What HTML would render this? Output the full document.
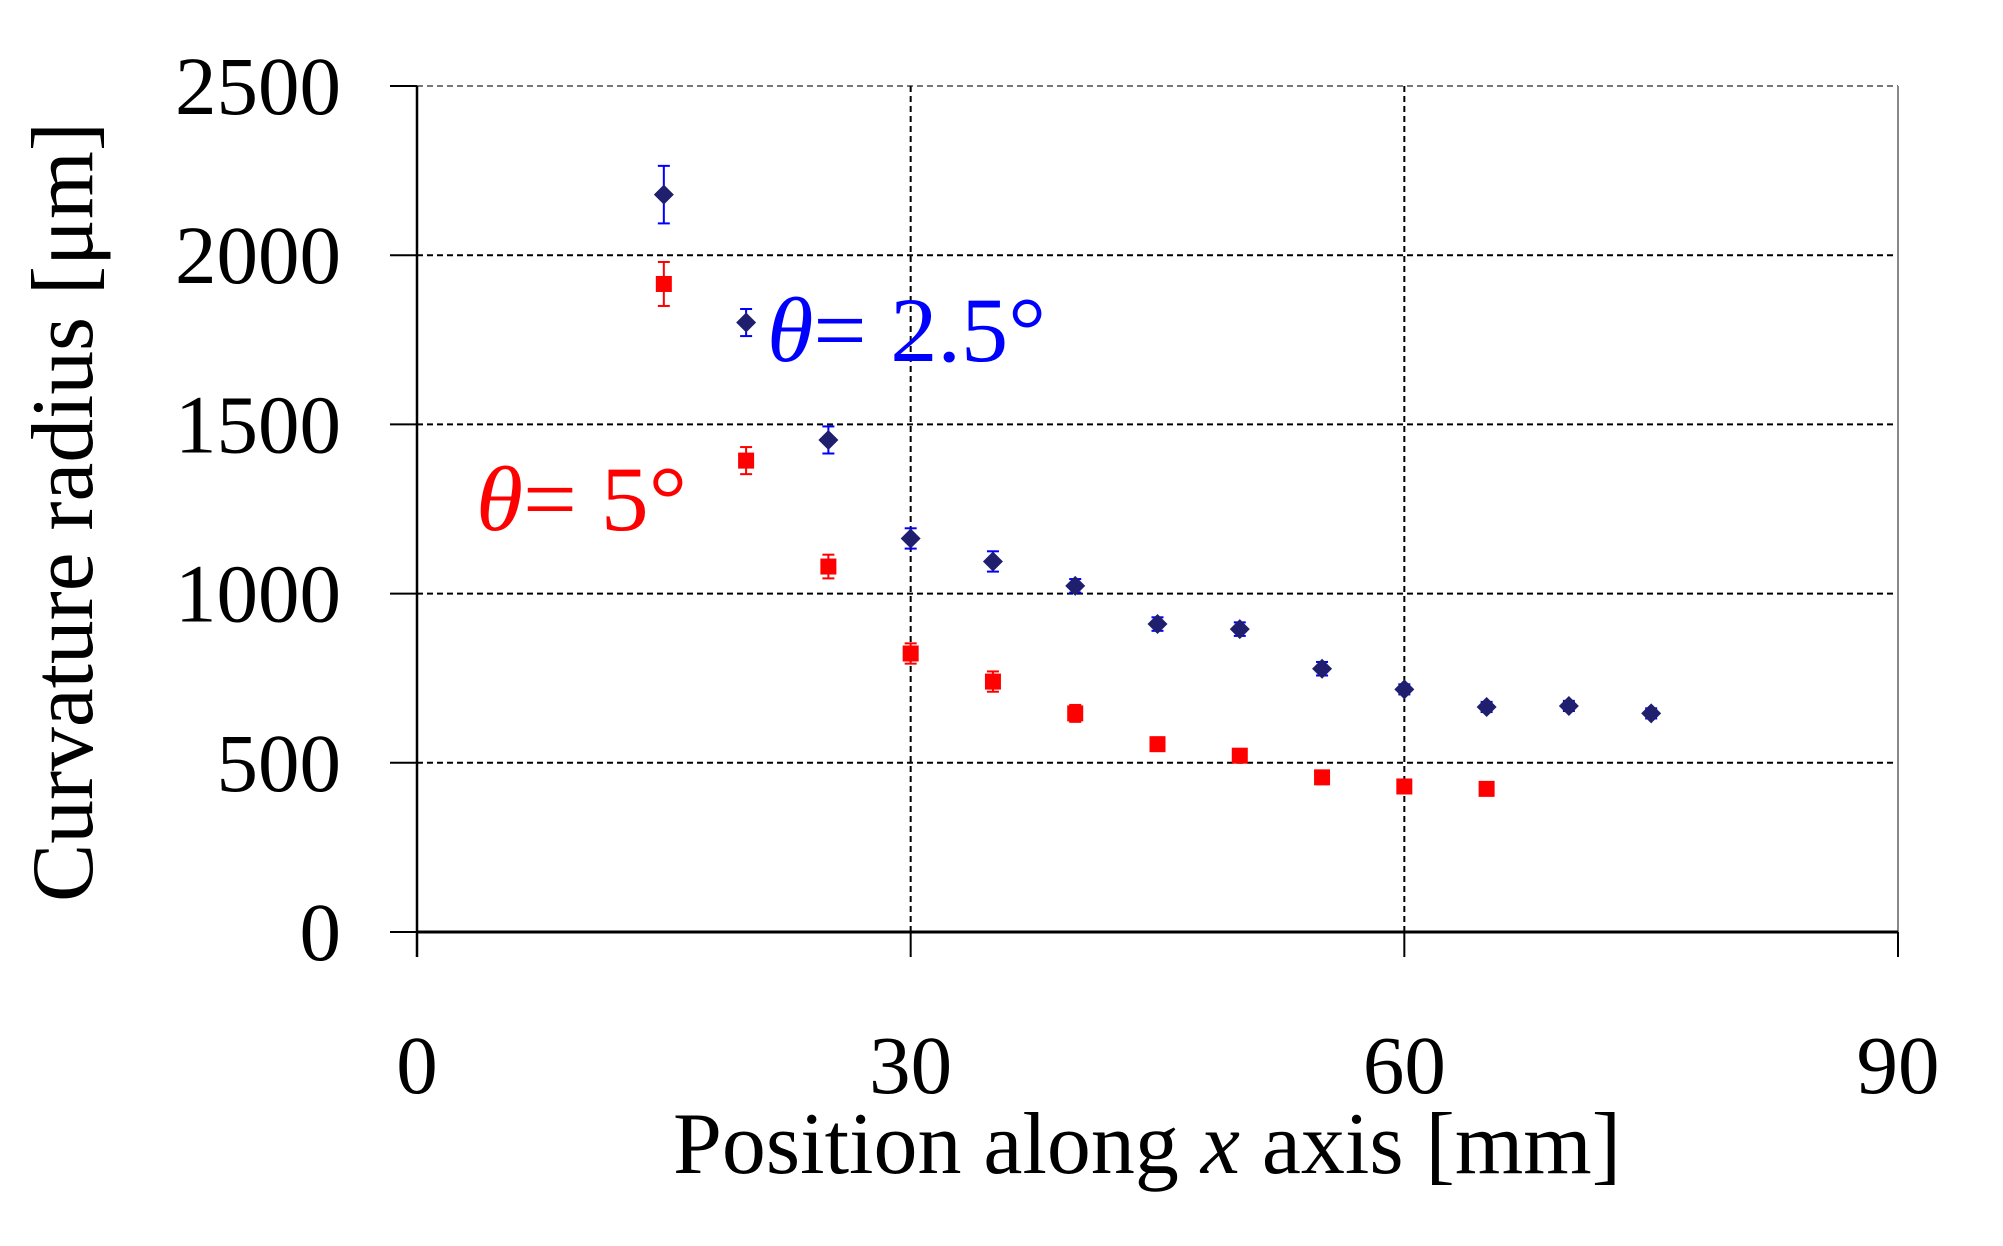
<!DOCTYPE html>
<html><head><meta charset="utf-8"><style>html,body{margin:0;padding:0;background:#fff}</style></head>
<body>
<svg id="chart" width="2003" height="1241" xmlns="http://www.w3.org/2000/svg" font-family="'Liberation Serif', serif">
<g id="grid"></g>
<g id="axes"></g>
<g id="series"></g>
<text transform="translate(92,512) rotate(-90)" text-anchor="middle" font-size="88" textLength="780" lengthAdjust="spacingAndGlyphs">Curvature radius [μm]</text>
<text x="1147" y="1173" text-anchor="middle" font-size="88" textLength="948" lengthAdjust="spacingAndGlyphs">Position along <tspan font-style="italic">x</tspan> axis [mm]</text>
<text x="767" y="361" fill="#0000ff" font-size="92" textLength="279" lengthAdjust="spacingAndGlyphs"><tspan font-style="italic">θ</tspan>= 2.5°</text>
<text x="476" y="530" fill="#ff0000" font-size="92" textLength="211" lengthAdjust="spacingAndGlyphs"><tspan font-style="italic">θ</tspan>= 5°</text>
</svg>
<script>
const xs = [15,20,25,30,35,40,45,50,55,60,65,70,75];
const blueVals = [2179,1801,1454,1163,1095,1023,910,895,778,717,665,668,646];
const blueErr = [85,40,40,30,30,20,20,20,20,15,15,15,15];
const redX = [15,20,25,30,35,40,45,50,55,60,65];
const redVals = [1915,1393,1080,823,740,646,555,521,457,430,423];
const redErr = [65,40,35,30,30,25,20,15,20,10,10];
const xTicks = [0,30,60,90];
const yTicks = [0,500,1000,1500,2000,2500];

const NS='http://www.w3.org/2000/svg';
const X0=417,X1=1898,Y0=932,Y1=86;
const sx=v=>X0+(v/90)*(X1-X0);
const sy=v=>Y0-(v/2500)*(Y0-Y1);
function mk(tag,parent,attrs){const e=document.createElementNS(NS,tag);for(const k in attrs)e.setAttribute(k,attrs[k]);parent.appendChild(e);return e;}
const grid=document.getElementById('grid'),axes=document.getElementById('axes'),ser=document.getElementById('series');

yTicks.forEach(t=>{
  if(t>0){const l=mk('line',grid,{x1:X0,x2:X1,y1:sy(t),y2:sy(t),stroke:t==2500?'#777':'#000','stroke-width':2,'stroke-dasharray':'6,4'});
  
  }
  const tk=mk('line',axes,{x1:X0-27,x2:X0,y1:sy(t),y2:sy(t),stroke:'#000','stroke-width':2});
  
  
  const tx=mk('text',axes,{x:341,y:sy(t)+28,'text-anchor':'end','font-size':83});
  tx.textContent=t;
  
  
});
xTicks.forEach(t=>{
  if(t>0&&t<90){const l=mk('line',grid,{x1:sx(t),x2:sx(t),y1:Y1,y2:Y0,stroke:'#000','stroke-width':2,'stroke-dasharray':'6,4'});
  
  }
  const tk=mk('line',axes,{x1:sx(t),x2:sx(t),y1:Y0,y2:Y0+25,stroke:'#000','stroke-width':2});
  
  
  const tx=mk('text',axes,{x:sx(t),y:1093,'text-anchor':'middle','font-size':83});
  tx.textContent=t;
  
  
});
const rb=mk('line',axes,{x1:X1,x2:X1,y1:Y1,y2:Y0,stroke:'#888','stroke-width':2});


const ya=mk('line',axes,{x1:X0,x2:X0,y1:Y1,y2:Y0+25,stroke:'#000','stroke-width':2.5});


const xa=mk('line',axes,{x1:X0,x2:X1,y1:Y0,y2:Y0,stroke:'#000','stroke-width':3});



function errbar(x,v,e,col,name){
  const g=mk('g',ser,{stroke:col,'stroke-width':2});
  
  
  const cx=sx(x),t=sy(v+e),b=sy(v-e);
  mk('line',g,{x1:cx,x2:cx,y1:t,y2:b});
  mk('line',g,{x1:cx-6,x2:cx+6,y1:t,y2:t});
  mk('line',g,{x1:cx-6,x2:cx+6,y1:b,y2:b});
}
redX.forEach((x,i)=>{
  errbar(x,redVals[i],redErr[i],'#ff0000','red-error-bar');
  const r=mk('rect',ser,{x:sx(x)-8,y:sy(redVals[i])-8,width:16,height:16,fill:'#ff0000'});
  
  
});
xs.forEach((x,i)=>{
  errbar(x,blueVals[i],blueErr[i],'#0000ff','blue-error-bar');
  const cx=sx(x),cy=sy(blueVals[i]),d=10;
  const p=mk('polygon',ser,{points:`${cx},${cy-d} ${cx+d},${cy} ${cx},${cy+d} ${cx-d},${cy}`,fill:'#1f1f6e'});
  
  
});
</script>
</body></html>
